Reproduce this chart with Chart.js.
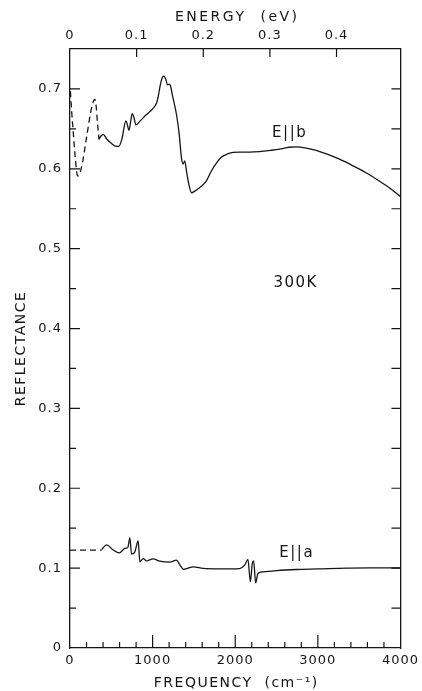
<!DOCTYPE html>
<html>
<head>
<meta charset="utf-8">
<script src="https://cdn.jsdelivr.net/npm/chart.js@4.4.0/dist/chart.umd.min.js"></script>
<style>
  body { margin: 0; background: #fff; }
  canvas { display: block; }
</style>
</head>
<body>
<canvas id="reflChart" width="422" height="691"></canvas>
<script>
// E||b reflectance, low-frequency part is dashed (extrapolated)
const ellbDashFreq = [5, 20, 40, 60, 93, 140, 200, 262, 290, 302, 315, 334, 350];
const ellbDashRefl = [0.697, 0.672, 0.645, 0.618, 0.591, 0.602, 0.639, 0.677, 0.686, 0.687, 0.680, 0.656, 0.637];

const ellbFreq = [350, 375, 403, 440, 500, 560, 590, 630, 676, 695, 713, 733, 753, 775, 797, 850, 926, 1000,
  1047, 1067, 1095, 1120, 1136, 1160, 1180, 1200, 1216, 1240, 1289, 1320, 1349, 1369, 1389, 1410, 1440, 1470,
  1510, 1550, 1600, 1651, 1710, 1772, 1830, 1893, 1973, 2050, 2174, 2295, 2420, 2537, 2650, 2738, 2860, 2980,
  3120, 3262, 3420, 3584, 3710, 3826, 3920, 4000];
const ellbRefl = [0.637, 0.641, 0.643, 0.638, 0.632, 0.628, 0.628, 0.638, 0.660, 0.655, 0.648, 0.658, 0.669, 0.664, 0.655, 0.660, 0.668, 0.675,
  0.682, 0.690, 0.706, 0.715, 0.716, 0.712, 0.705, 0.706, 0.704, 0.692, 0.668, 0.645, 0.614, 0.606, 0.610, 0.597, 0.580, 0.570,
  0.572, 0.575, 0.579, 0.585, 0.597, 0.607, 0.6145, 0.618, 0.6205, 0.621, 0.621, 0.6216, 0.623, 0.6246, 0.627, 0.6275, 0.626, 0.623,
  0.618, 0.612, 0.604, 0.595, 0.587, 0.579, 0.572, 0.565];

// E||a reflectance
const ellaDashFreq = [0, 383];
const ellaDashRefl = [0.1225, 0.1225];

const ellaFreq = [383, 443, 520, 596, 664, 700, 725, 745, 785, 825, 846, 886, 926, 1006, 1087, 1208, 1289, 1330,
  1377, 1430, 1490, 1611, 1800, 2054, 2114, 2154, 2183, 2207, 2223, 2247, 2275, 2335, 2500, 2738, 3000, 3342, 3700, 4000];
const ellaRefl = [0.1234, 0.129, 0.123, 0.119, 0.1246, 0.126, 0.138, 0.1175, 0.1204, 0.134, 0.108, 0.112, 0.109, 0.1117, 0.1087, 0.1075, 0.110, 0.104,
  0.0983, 0.100, 0.1016, 0.0996, 0.099, 0.0995, 0.1037, 0.111, 0.083, 0.106, 0.109, 0.0817, 0.0933, 0.0954, 0.097, 0.0983, 0.099, 0.100, 0.1003, 0.1004];

// in-plot labels (frequency, reflectance)
const noteText = ["E||b", "300K", "E||a"];
const noteFreq = [2659, 2731, 2744];
const noteRefl = [0.645, 0.4575, 0.119];

const CM_PER_EV = 8065.54;
const ink = "#151515";
const fontFamily = "'DejaVu Sans', sans-serif";

function toPoints(xs, ys) {
  return xs.map((x, i) => ({ x: x, y: ys[i] }));
}

function lineSet(xs, ys, dashed) {
  return {
    data: toPoints(xs, ys),
    borderColor: ink,
    borderWidth: 1.3,
    borderDash: dashed ? [6, 4] : [],
    pointRadius: 0,
    cubicInterpolationMode: "monotone",
    fill: false
  };
}

function formatTick(v) {
  return v === 0 ? "0" : v.toFixed(1);
}

// inward tick marks, axis titles and curve labels
const frameTicks = {
  id: "frameTicks",
  beforeDraw(chart) {
    chart.ctx.letterSpacing = "1px";
  },
  afterDraw(chart) {
    const ctx = chart.ctx;
    const { left, right, top, bottom } = chart.chartArea;
    const x = chart.scales.x;
    const xTop = chart.scales.xTop;
    const y = chart.scales.y;

    ctx.save();
    ctx.strokeStyle = ink;
    ctx.lineWidth = 1.2;
    ctx.beginPath();
    for (let i = 1; i < 15; i++) {
      const py = y.getPixelForValue(i * 0.05);
      const len = i % 2 === 0 ? 10 : 6;
      ctx.moveTo(left, py);
      ctx.lineTo(left + len, py);
      ctx.moveTo(right, py);
      ctx.lineTo(right - 9, py);
    }
    for (let i = 1; i < 20; i++) {
      const px = x.getPixelForValue(i * 200);
      const len = i % 5 === 0 ? 13 : 6;
      ctx.moveTo(px, bottom);
      ctx.lineTo(px, bottom - len);
    }
    for (let i = 1; i <= 4; i++) {
      const px = xTop.getPixelForValue(i * 0.1);
      ctx.moveTo(px, top);
      ctx.lineTo(px, top + 8);
    }
    ctx.stroke();

    ctx.fillStyle = ink;
    ctx.textAlign = "center";
    ctx.textBaseline = "middle";
    const midX = (left + right) / 2;

    ctx.font = "14px " + fontFamily;
    ctx.letterSpacing = "2.5px";
    ctx.fillText("ENERGY  (eV)", midX + 2, 17);
    ctx.letterSpacing = "1.5px";
    ctx.fillText("FREQUENCY  (cm\u207B\u00B9)", midX + 1, 683);

    ctx.save();
    ctx.translate(21, (top + bottom) / 2);
    ctx.rotate(-Math.PI / 2);
    ctx.letterSpacing = "1.5px";
    ctx.fillText("REFLECTANCE", 0, 0);
    ctx.restore();

    ctx.font = "15px " + fontFamily;
    ctx.letterSpacing = "1.5px";
    for (let i = 0; i < noteText.length; i++) {
      ctx.fillText(noteText[i], x.getPixelForValue(noteFreq[i]), y.getPixelForValue(noteRefl[i]));
    }
    ctx.restore();
  }
};

const tickFont = { family: fontFamily, size: 13 };

new Chart(document.getElementById("reflChart").getContext("2d"), {
  type: "line",
  data: {
    datasets: [
      lineSet(ellbDashFreq, ellbDashRefl, true),
      lineSet(ellbFreq, ellbRefl, false),
      lineSet(ellaDashFreq, ellaDashRefl, true),
      lineSet(ellaFreq, ellaRefl, false)
    ]
  },
  options: {
    responsive: false,
    devicePixelRatio: 1,
    animation: false,
    layout: { padding: 0 },
    plugins: { legend: { display: false }, tooltip: { enabled: false } },
    scales: {
      x: {
        type: "linear",
        position: "bottom",
        min: 0,
        max: 4000,
        afterFit: (s) => { s.height = 43; },
        grid: { display: false, drawTicks: false },
        border: { display: true, color: ink, width: 1.3 },
        ticks: { stepSize: 1000, padding: 5, color: ink, font: tickFont, maxRotation: 0, callback: (v) => String(v) }
      },
      xTop: {
        type: "linear",
        position: "top",
        min: 0,
        max: 4000 / CM_PER_EV,
        afterFit: (s) => { s.height = 49; },
        grid: { display: false, drawTicks: false },
        border: { display: true, color: ink, width: 1.3 },
        ticks: { stepSize: 0.1, includeBounds: false, padding: 6, color: ink, font: tickFont, maxRotation: 0, callback: formatTick }
      },
      y: {
        type: "linear",
        position: "left",
        min: 0,
        max: 0.75,
        afterFit: (s) => { s.width = 70; },
        grid: { display: false, drawTicks: false },
        border: { display: true, color: ink, width: 1.3 },
        ticks: { stepSize: 0.1, includeBounds: false, padding: 8, color: ink, font: tickFont, callback: formatTick }
      },
      yRight: {
        type: "linear",
        position: "right",
        min: 0,
        max: 0.75,
        afterFit: (s) => { s.width = 21; },
        grid: { display: false, drawTicks: false },
        border: { display: true, color: ink, width: 1.3 },
        ticks: { display: false }
      }
    }
  },
  plugins: [frameTicks]
});
</script>
</body>
</html>
